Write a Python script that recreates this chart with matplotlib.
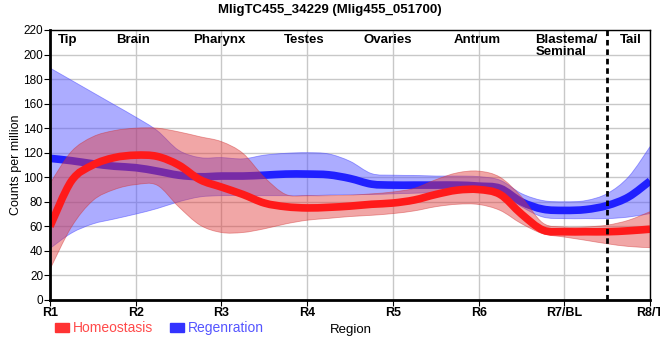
import numpy as np
import matplotlib
matplotlib.use("Agg")
import matplotlib.pyplot as plt
from matplotlib.patches import Patch, PathPatch
from matplotlib.path import Path

plt.rcParams['font.family'] = ['Liberation Sans', 'DejaVu Sans']

# position along the body, in region units (R1 = 0 ... R8/T = 7), read every quarter region
pos = np.arange(29) * 0.25

homeo = [60, 97, 110, 116, 118, 117, 110, 98, 92, 86, 79, 76, 75, 75.5, 76.5, 78, 79,
         81.5, 86, 89.5, 90, 86, 70, 57, 55.6, 55.6, 55.6, 56.4, 57.7]
homeo_hi = [95, 121, 133, 138, 140, 140, 137, 133, 129, 119.5, 100, 86, 85, 85, 85.4, 86.5, 88,
            91, 98, 103.6, 105, 100, 84, 62.7, 59.5, 59.5, 61, 65, 72]
homeo_lo = [25, 59.5, 81, 90, 94, 93.5, 76, 61, 55, 55, 58, 62, 65, 66.5, 68, 69, 70.4,
            72.6, 76, 78, 77.8, 73, 62.2, 54, 51.3, 48.6, 45.8, 43.6, 42.6]

regen = [115.4, 113.5, 111, 109, 107.8, 105, 101.7, 100.4, 101, 101, 101.7, 102.6, 102.6, 102, 99,
         94.4, 93.6, 93.6, 93.6, 93.6, 92.8, 91, 80, 74, 73, 73.7, 77, 84, 97]
regen_hi = [189, 179, 169, 159, 149, 138, 122, 116, 116, 115, 118, 119.5, 120, 119, 113,
            103, 101.7, 101.5, 101, 101, 100.5, 97.6, 86.7, 81, 80, 81, 86.7, 100.4, 125]
regen_lo = [42, 54.5, 62, 66, 70, 74.5, 80, 84, 85, 85, 85, 85, 85, 85.5, 86,
            86, 86.5, 87, 87.5, 88, 88, 88, 76, 67.6, 66.3, 66.3, 66.3, 67.6, 70.4]

tick_labels = ['R1', 'R2', 'R3', 'R4', 'R5', 'R6', 'R7/BL', 'R8/T']
regions = ['Tip', 'Brain', 'Pharynx', 'Testes', 'Ovaries', 'Antrum', 'Blastema/\nSeminal', 'Tail']
region_x = [0.2, 0.97, 1.98, 2.96, 3.94, 4.98, 5.66, 6.78]
region_ha = ['center'] * 6 + ['left', 'center']


def smooth_path(x, y):
    # bezier segments through the points (catmull-rom style control points), drawn by matplotlib
    p = np.column_stack([x, y]).astype(float)
    ext = np.vstack([p[0], p, p[-1]])
    verts = [p[0]]
    codes = [Path.MOVETO]
    for i in range(len(p) - 1):
        c1 = ext[i + 1] + (ext[i + 2] - ext[i]) / 6
        c2 = ext[i + 2] - (ext[i + 3] - ext[i + 1]) / 6
        verts += [c1, c2, p[i + 1]]
        codes += [Path.CURVE4] * 3
    return verts, codes


def smooth_line(ax, x, y, **kw):
    verts, codes = smooth_path(x, y)
    ax.add_patch(PathPatch(Path(verts, codes), fill=False, **kw))


def smooth_band(ax, x, lo, hi, **kw):
    v1, c1 = smooth_path(x, hi)
    v2, c2 = smooth_path(x[::-1], lo[::-1])
    c2[0] = Path.LINETO
    verts = v1 + v2 + [v1[0]]
    codes = c1 + c2 + [Path.CLOSEPOLY]
    ax.add_patch(PathPatch(Path(verts, codes), **kw))


fig = plt.figure(figsize=(6.6, 3.6), dpi=100)
ax = fig.add_axes([0.0758, 0.1667, 0.9092, 0.75])

smooth_band(ax, pos, np.array(regen_lo), np.array(regen_hi),
            facecolor='#5a5aff', alpha=0.5, lw=0.6, edgecolor='#4040ff')
smooth_line(ax, pos, regen, color='#2020ff', lw=5.5, capstyle='butt')
smooth_band(ax, pos, np.array(homeo_lo), np.array(homeo_hi),
            facecolor='#e23a3a', alpha=0.45, lw=0.6, edgecolor='#d03030')
smooth_line(ax, pos, homeo, color='#ff1a1a', lw=5.5, capstyle='butt')

ax.axvline(6.5, color='black', lw=2, ls=(0, (2, 1.4)))

for name, x, ha in zip(regions, region_x, region_ha):
    ax.text(x, 217, name, ha=ha, va='top', fontsize=9.5, fontweight='bold', linespacing=1.0)

ax.set_xlim(0, 7)
ax.set_ylim(0, 220)
ax.set_yticks(range(0, 221, 20))
ax.set_xticks(range(8))
ax.set_xticklabels(tick_labels, fontweight='bold', fontsize=9)
ax.tick_params(axis='y', labelsize=8.5, length=4, pad=1)
ax.tick_params(axis='x', length=4, pad=1)
ax.grid(color='#c8c8c8', lw=1)
ax.set_axisbelow(True)
for side in ['left', 'bottom']:
    ax.spines[side].set_linewidth(2)
for side in ['top', 'right']:
    ax.spines[side].set_linewidth(1)

ax.set_ylabel('Counts per million', fontsize=9, labelpad=1)

fig.suptitle('MligTC455_34229 (Mlig455_051700)', fontsize=9.5, fontweight='bold', y=0.99)
fig.text(0.532, 0.083, 'Region', ha='center', va='center', fontsize=9.5)

handles = [Patch(color='#ff3333'), Patch(color='#3333ff')]
fig.legend(handles, ['Homeostasis', 'Regenration'], loc='center left', bbox_to_anchor=(0.064, 0.088),
           ncol=2, frameon=False, fontsize=10, handlelength=1.0, handleheight=0.55,
           handletextpad=0.3, columnspacing=1.2, labelcolor=['#ff4a4a', '#5555ff'])

fig.savefig('out.png', dpi=100)
